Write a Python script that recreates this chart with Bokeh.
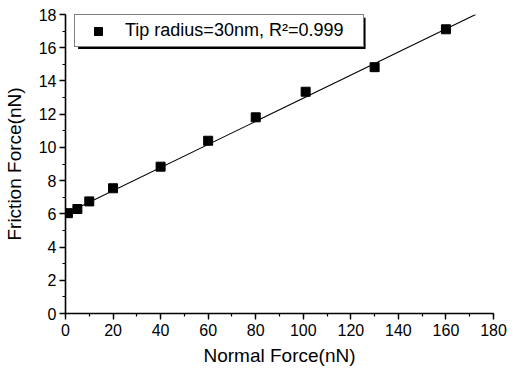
from bokeh.plotting import figure
from bokeh.models import (SingleIntervalTicker, Legend, LegendItem, BoxAnnotation, Range1d)
from bokeh.embed import file_html
from bokeh.resources import INLINE

# Data
normal_force = [1, 5, 10, 20, 40, 60, 80, 101, 130, 160]
friction_force = [6.04, 6.29, 6.75, 7.54, 8.84, 10.40, 11.81, 13.35, 14.83, 17.11]
fit_x = [0, 172.5]
fit_y = [6.0, 18.0]
legend_label = "Tip radius=30nm, R\u00b2=0.999"

FONT = "Liberation Sans"

p = figure(width=512, height=371, output_backend="svg", toolbar_location=None,
           x_range=Range1d(0, 180), y_range=Range1d(0, 18),
           min_border_left=64, min_border_right=19, min_border_top=14, min_border_bottom=58)
p.outline_line_color = None
p.xgrid.visible = False
p.ygrid.visible = False
p.background_fill_color = "white"
p.border_fill_color = "white"

p.line(fit_x, fit_y, line_color="black", line_width=1.1)
pts = p.scatter(normal_force, friction_force, marker="square", size=9,
                fill_color="black", line_color="black")

for ax, interval in ((p.xaxis[0], 20), (p.yaxis[0], 2)):
    ax.ticker = SingleIntervalTicker(interval=interval, num_minor_ticks=2)
    ax.axis_line_width = 1.6
    ax.axis_line_color = "black"
    ax.major_tick_line_color = "black"
    ax.major_tick_line_width = 1.4
    ax.minor_tick_line_color = "black"
    ax.minor_tick_line_width = 1.2
    ax.major_tick_out = 6
    ax.major_tick_in = 0
    ax.minor_tick_out = 3
    ax.minor_tick_in = 0
    ax.major_label_text_font = FONT
    ax.major_label_text_font_size = "16px"
    ax.major_label_text_color = "black"
    ax.axis_label_text_font = FONT
    ax.axis_label_text_font_size = "19px"
    ax.axis_label_text_font_style = "normal"
    ax.axis_label_text_color = "black"

p.xaxis[0].axis_label = "Normal Force(nN)"
p.yaxis[0].axis_label = "Friction Force(nN)"
p.xaxis[0].major_label_standoff = 4
p.yaxis[0].major_label_standoff = 3
p.xaxis[0].axis_label_standoff = 6
p.yaxis[0].axis_label_standoff = 11

shadow = BoxAnnotation(left=5.3, right=126.2, top=17.8, bottom=15.93,
                       fill_color="black", fill_alpha=1, line_color=None)
p.add_layout(shadow)

legend = Legend(items=[LegendItem(label=legend_label, renderers=[pts])],
                location=(9, 266), padding=5, margin=0, spacing=0,
                glyph_width=36, glyph_height=20, label_standoff=9,
                label_width=233, label_height=20,
                border_line_color="black", border_line_width=1.5,
                background_fill_color="white", background_fill_alpha=1,
                label_text_font=FONT, label_text_font_size="18px",
                label_text_color="black")
p.add_layout(legend, "center")

open("out.html", "w").write(file_html(p, INLINE))
